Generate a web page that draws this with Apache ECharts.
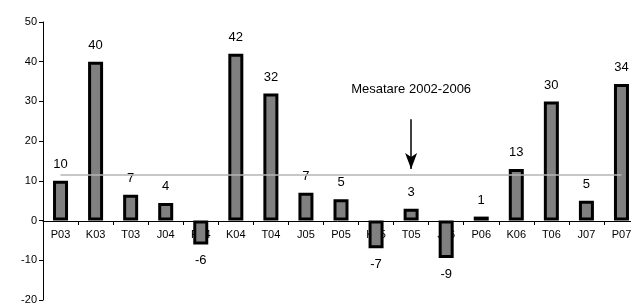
<!DOCTYPE html>
<html><head><meta charset="utf-8">
<script src="https://cdn.jsdelivr.net/npm/echarts@6/dist/echarts.min.js"></script>
<style>html,body{margin:0;padding:0;background:#fff}#c{width:631px;height:307px}</style>
</head><body><div id="c"></div>
<script>
const categories = ['P03','K03','T03','J04','P04','K04','T04','J05','P05','K05','T05','J06','P06','K06','T06','J07','P07'];
const values = [10, 40, 6.5, 4.4, -6, 42, 32, 7, 5.4, -7, 3, -9.4, 1, 13, 30, 5, 34.4];
const yTicks = {min: -20, max: 50, interval: 10};
const averageValue = 11.5;
const averageLabel = 'Mesatare 2002-2006';
const arrowFrom = 25.5, arrowTo = 13, arrowCategory = 'T05', labelValue = 33;

const chart = echarts.init(document.getElementById('c'));
const font = 'Liberation Sans, Arial, sans-serif';
chart.setOption({
  animation: false,
  grid: {left: 43, right: -8, top: 22, bottom: 7, containLabel: false, outerBoundsMode: 'none'},
  xAxis: {
    type: 'category', data: categories, offset: -79,
    axisLine: {onZero: false, lineStyle: {color: '#000', width: 1}},
    axisTick: {show: true, alignWithLabel: false, length: 4, lineStyle: {color: '#000'}},
    axisLabel: {color: '#000', fontFamily: font, fontSize: 11, margin: 8, interval: 0}
  },
  yAxis: {
    type: 'value', min: yTicks.min, max: yTicks.max, interval: yTicks.interval,
    axisLine: {show: true, lineStyle: {color: '#000', width: 1}},
    axisTick: {show: true, length: 4, lineStyle: {color: '#000'}},
    splitLine: {show: false},
    axisLabel: {color: '#000', fontFamily: font, fontSize: 11, margin: 6}
  },
  series: [{
    type: 'bar', barWidth: 15,
    data: values.map(v => ({value: v, label: {position: v >= 0 ? 'top' : 'bottom'}})),
    itemStyle: {color: '#808080', borderColor: '#000', borderWidth: 3},
    label: {show: true, distance: 10, color: '#000', fontFamily: font, fontSize: 13,
      formatter: p => Math.round(p.value)},
    markLine: {
      silent: true, symbol: 'none',
      lineStyle: {color: '#b4b4b4', width: 1.5, type: 'solid'},
      label: {show: false},
      data: [[{coord: [categories[0], averageValue]}, {coord: [categories[categories.length-1], averageValue]}]]
    }
  }, {
    type: 'line', data: [], silent: true,
    markLine: {
      silent: true, symbol: ['none', 'arrow'], symbolSize: [9, 16],
      lineStyle: {color: '#000', width: 1.5, type: 'solid'},
      label: {show: false},
      data: [[{coord: [arrowCategory, arrowFrom]}, {coord: [arrowCategory, arrowTo]}]]
    },
    markPoint: {
      symbol: 'circle', symbolSize: 0,
      label: {show: true, formatter: averageLabel, color: '#000', fontFamily: font, fontSize: 13, position: 'inside'},
      data: [{coord: [arrowCategory, labelValue]}]
    }
  }]
});
</script></body></html>
